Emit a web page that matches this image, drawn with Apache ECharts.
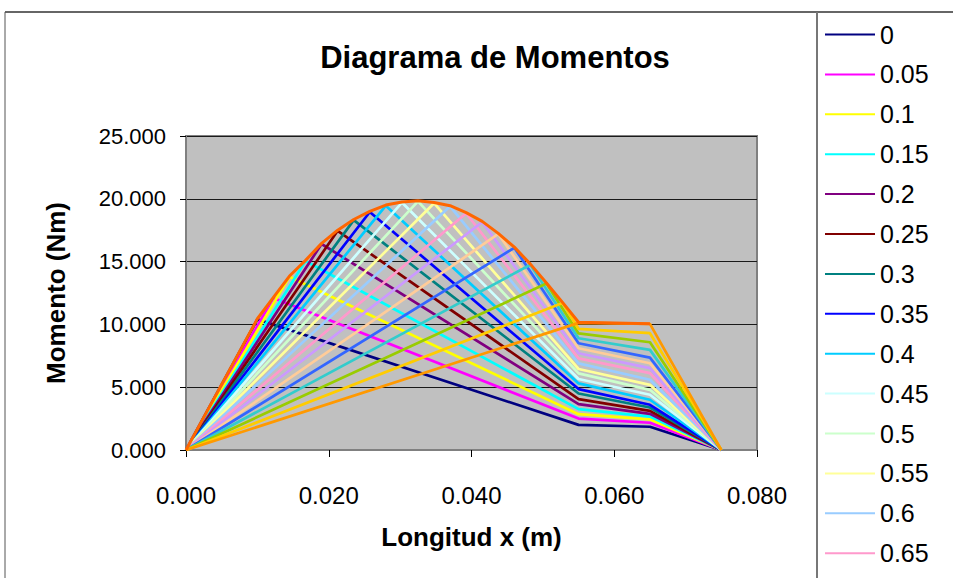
<!DOCTYPE html>
<html>
<head>
<meta charset="utf-8">
<script src="https://cdn.jsdelivr.net/npm/echarts@6/dist/echarts.min.js"></script>
<style>
  html, body { margin: 0; padding: 0; background: #ffffff; }
  #chart { width: 953px; height: 578px; }
</style>
</head>
<body>
<div id="chart"></div>
<script>
// Load-position parameter shown in the legend
const loadSteps = ['0', '0.05', '0.1', '0.15', '0.2', '0.25', '0.3', '0.35', '0.4', '0.45', '0.5',
                   '0.55', '0.6', '0.65', '0.7', '0.75', '0.8', '0.85', '0.9', '0.95', '1'];
// Position of the moving load along the shaft (m)
const loadX = [0.010, 0.01225, 0.0145, 0.01675, 0.019, 0.02125, 0.0235, 0.02575, 0.028, 0.03025, 0.0325,
               0.03475, 0.037, 0.03925, 0.0415, 0.04375, 0.046, 0.04825, 0.0505, 0.05275, 0.055];
// Moment under the load (Nm)
const peakMoment = [10.4, 12.1, 13.8, 15.05, 16.4, 17.45, 18.3, 18.95, 19.45, 19.7, 19.8,
                    19.65, 19.4, 18.85, 18.15, 17.2, 16.1, 14.75, 13.25, 11.7, 10.12];
// Moment at section x = 0.055 m (Nm)
const momentAt055 = [2.0, 2.5, 2.85, 3.25, 3.65, 4.05, 4.5, 4.85, 5.3, 5.65, 6.1,
                     6.45, 6.9, 7.3, 7.7, 8.1, 8.5, 8.9, 9.28, 9.65, 10.12];
// Moment at section x = 0.065 m (Nm)
const momentAt065 = [1.85, 2.17, 2.44, 2.66, 2.88, 3.12, 3.38, 3.6, 4.0, 4.4, 4.79,
                     5.19, 5.59, 6.12, 6.52, 6.91, 7.36, 7.97, 8.58, 9.3, 10.04];
// Fixed sections: left support, two pulleys, right support (m)
const sections = [0, 0.055, 0.065, 0.075];
// Envelope of maximum moment
const envelopeName = 'Envolvente';
const envelopeX = [0, 0.010, 0.01225, 0.0145, 0.01675, 0.019, 0.02125, 0.0235, 0.02575, 0.028, 0.03025, 0.0325,
                   0.03475, 0.037, 0.03925, 0.0415, 0.04375, 0.046, 0.04825, 0.0505, 0.05275, 0.055, 0.065];
const envelopeM = [0, 10.45, 12.15, 13.85, 15.1, 16.45, 17.5, 18.35, 19.0, 19.5, 19.75, 19.85,
                   19.7, 19.45, 18.9, 18.2, 17.25, 16.15, 14.8, 13.3, 11.75, 10.17, 10.06];
// Legend entries that fit inside the legend box
const legendShown = loadSteps.slice(0, 14);
// Axis ticks
const xTicks = { min: 0, max: 0.08, step: 0.02 };
const yTicks = { min: 0, max: 25, step: 5 };

const palette = ['#000080', '#FF00FF', '#FFFF00', '#00FFFF', '#800080', '#800000', '#008080',
                 '#0000FF', '#00CCFF', '#CCFFFF', '#CCFFCC', '#FFFF99', '#99CCFF', '#FF99CC',
                 '#CC99FF', '#FFCC99', '#3366FF', '#33CCCC', '#99CC00', '#FFCC00', '#FF9900', '#FF6600'];

const FONT = '"Liberation Sans", Arial, sans-serif';

const series = loadSteps.map((name, i) => ({
  name: name,
  type: 'line',
  symbol: 'none',
  animation: false,
  lineStyle: { width: 2.7, color: palette[i] },
  itemStyle: { color: palette[i] },
  data: [
    [sections[0], 0],
    [loadX[i], peakMoment[i]],
    [sections[1], momentAt055[i]],
    [sections[2], momentAt065[i]],
    [sections[3], 0]
  ]
}));

series.push({
  name: envelopeName,
  type: 'line',
  symbol: 'none',
  animation: false,
  lineStyle: { width: 3, color: palette[21] },
  itemStyle: { color: palette[21] },
  data: envelopeX.map((x, i) => [x, envelopeM[i]])
});

const chart = echarts.init(document.getElementById('chart'), null, { renderer: 'svg' });
chart.setOption({
  animation: false,
  backgroundColor: '#ffffff',
  color: palette,
  title: {
    text: 'Diagrama de Momentos',
    left: 490,
    top: 37,
    textAlign: 'center',
    textStyle: { fontFamily: FONT, fontSize: 31, fontWeight: 'bold', color: '#000' }
  },
  legend: {
    orient: 'vertical',
    left: 825,
    top: 22,
    height: 1200,
    icon: 'rect',
    itemWidth: 50,
    itemHeight: 2,
    itemGap: 14.9,
    padding: 0,
    data: legendShown,
    itemStyle: { borderWidth: 0 },
    textStyle: { fontFamily: FONT, fontSize: 25, lineHeight: 25, color: '#000' }
  },
  grid: {
    left: 186,
    right: 196,
    top: 136,
    bottom: 128,
    show: true,
    backgroundColor: '#C0C0C0',
    borderColor: '#808080',
    borderWidth: 2,
    containLabel: false,
    outerBoundsMode: 'none'
  },
  xAxis: {
    type: 'value',
    min: xTicks.min,
    max: xTicks.max,
    interval: xTicks.step,
    name: 'Longitud x (m)',
    nameLocation: 'middle',
    nameGap: 74,
    nameTextStyle: { fontFamily: FONT, fontSize: 26, fontWeight: 'bold', color: '#000' },
    axisLine: { show: true, onZero: false, lineStyle: { color: '#808080', width: 2 } },
    axisTick: { show: true, inside: false, length: 7, lineStyle: { color: '#000', width: 1 } },
    axisLabel: {
      margin: 33,
      fontFamily: FONT, fontSize: 24, color: '#000',
      formatter: v => v.toFixed(3)
    },
    splitLine: { show: false }
  },
  yAxis: {
    type: 'value',
    min: yTicks.min,
    max: yTicks.max,
    interval: yTicks.step,
    name: 'Momento (Nm)',
    nameLocation: 'middle',
    nameGap: 117,
    nameTextStyle: { fontFamily: FONT, fontSize: 26, fontWeight: 'bold', color: '#000' },
    axisLine: { show: true, lineStyle: { color: '#808080', width: 2 } },
    axisTick: { show: true, inside: false, length: 6, lineStyle: { color: '#000', width: 1 } },
    axisLabel: {
      margin: 20,
      fontFamily: FONT, fontSize: 22, color: '#000',
      formatter: v => v.toFixed(3)
    },
    splitLine: { show: true, lineStyle: { color: '#1a1a1a', width: 1 } }
  },
  graphic: [
    { type: 'line', silent: true, shape: { x1: 5, y1: 12, x2: 953, y2: 12 },
      style: { stroke: '#333', lineWidth: 1.5 } },
    { type: 'line', silent: true, shape: { x1: 5, y1: 12, x2: 5, y2: 578 },
      style: { stroke: '#555', lineWidth: 1 } },
    { type: 'line', silent: true, shape: { x1: 817, y1: 12, x2: 817, y2: 578 },
      style: { stroke: '#777', lineWidth: 2 } }
  ],
  series: series
});
</script>
</body>
</html>
